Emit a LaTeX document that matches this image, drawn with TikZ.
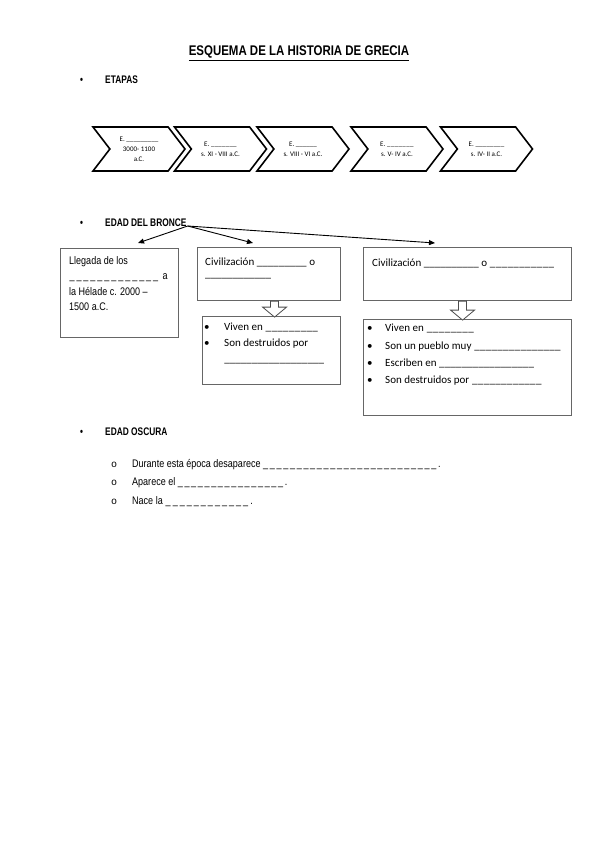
\documentclass[tikz,border=0pt]{standalone}
\usepackage{fontspec}
\setmainfont{Liberation Sans}[FakeStretch=0.82]
\newfontfamily\negrita{Liberation Sans}[FakeStretch=0.76]
\newfontfamily\calfont{Carlito}
\newfontfamily\monofont{Liberation Mono}
\usetikzlibrary{arrows.meta,shapes.symbols}
\newcommand{\hueco}[1]{\leavevmode\xleaders\hbox{\_}\hskip#1\null}
\newcommand{\rayas}[1]{\leavevmode\xleaders\hbox{\_\kern1.6pt}\hskip#1\null}
\tikzset{
  titulo/.style={font=\negrita\bfseries\fontsize{11}{13}\selectfont, inner sep=0pt, anchor=base west},
  texto/.style={font=\fontsize{11}{13}\selectfont, inner sep=0pt, anchor=base west},
  cal/.style={font=\calfont\fontsize{11}{13}\selectfont, inner sep=0pt, anchor=base west},
  caja/.style={draw=black!60, line width=1.1pt, inner sep=0pt, anchor=north west},
  etapa/.style={draw, line width=1.6pt, signal, signal to=east, signal from=west,
    signal pointer angle=105, minimum width=92pt, minimum height=44pt, inner sep=0pt,
    align=center, font=\calfont\fontsize{7}{10}\selectfont},
  flecha/.style={-{Triangle[length=6pt,width=5pt]}, line width=0.9pt},
  bloque/.style={draw=black!70, fill=white, line width=0.8pt, line join=miter}
}
\begin{document}
\begin{tikzpicture}[x=1pt,y=-1pt]
  \useasboundingbox (0,0) rectangle (599,848);
  % titulo
  \node[font=\bfseries\fontsize{14}{16}\selectfont, inner sep=0pt, anchor=base] (tit) at (299,56) {\underline{ESQUEMA DE LA HISTORIA DE GRECIA}};
  % etapas
  \node[titulo] (b1) at (80,84) {•};
  \node[titulo] (etapas) at (105,84) {ETAPAS};
  \foreach \x/\t [count=\i] in {139/{E. \hueco{32pt}\\3000- 1100\\a.C.}, 220.5/{E. \hueco{26pt}\\s. XI - VIII a.C.}, 303/{E. \hueco{21pt}\\s. VIII - VI a.C.}, 397/{E. \hueco{27pt}\\s. V- IV a.C.}, 486.5/{E. \hueco{29pt}\\s. IV- II a.C.}}
    \node[etapa] (e\i) at (\x,149) {\t};
  % edad del bronce
  \node[titulo] (b2) at (80,226) {•};
  \node[titulo] (bronce) at (105,226) {EDAD DEL BRONCE};
  \node[caja, minimum width=118pt, minimum height=89pt] (llegada) at (60,248) {};
  \node[caja, minimum width=143pt, minimum height=53pt] (civ1) at (197,247) {};
  \node[caja, minimum width=138pt, minimum height=68pt] (rasgos1) at (202,316) {};
  \node[caja, minimum width=208pt, minimum height=53pt] (civ2) at (363,247) {};
  \node[caja, minimum width=208pt, minimum height=96pt] (rasgos2) at (363,319) {};
  \coordinate (p1) at (138,243);
  \coordinate (p2) at (253,243);
  \coordinate (p3) at (435,243);
  \foreach \p in {p1,p2,p3}
    \draw[flecha] ([xshift=1pt]bronce.base east) -- (\p);
  \foreach \n/\dx/\s/\p in {civ1/5.5/6/16, civ2/-5/9/19}
    \draw[bloque] ([xshift=\dx pt]\n.south) ++(-4,0) -- ++(0,\s) -- ++(-8,0) -- ++(12,\p-\s) -- ++(12,\s-\p) -- ++(-8,0) -- ++(0,-\s) -- cycle;
  \foreach \y/\t [count=\i] in {264/{Llegada de los}, 279.5/{\rayas{91pt} a}, 295/{la Hélade c. 2000 –}, 310.5/{1500 a.C.}}
    \node[texto] (l\i) at (69,\y) {\t};
  \node[cal] (c1a) at (205,265) {Civilización \hueco{50pt} o};
  \node[cal] (c1b) at (205,277) {\hueco{66pt}};
  \foreach \y [count=\i] in {330,346}
    \node[cal] (v1\i) at (204,\y) {•};
  \foreach \y/\t [count=\i] in {330/{Viven en \hueco{53pt}}, 346/{Son destruidos por}, 362/{\hueco{100pt}}}
    \node[cal] (r1\i) at (224,\y) {\t};
  \node[cal] (c2a) at (372,266) {Civilización \hueco{55pt} o \hueco{65pt}};
  \foreach \y/\t [count=\i] in {331/{Viven en \hueco{48pt}}, 349/{Son un pueblo muy \hueco{87pt}}, 366/{Escriben en \hueco{95pt}}, 383/{Son destruidos por \hueco{70pt}}} {
    \node[cal] (v2\i) at (367,\y) {•};
    \node[cal] (r2\i) at (385,\y) {\t};
  }
  % edad oscura
  \node[titulo] (b3) at (80,435) {•};
  \node[titulo] (oscura) at (105,435) {EDAD OSCURA};
  \foreach \y/\t [count=\i] in {467/{Durante esta época desaparece \rayas{175pt}.}, 485.5/{Aparece el \rayas{107pt}.}, 504/{Nace la \rayas{85pt}.}} {
    \node[font=\monofont\fontsize{10}{12}\selectfont, inner sep=0pt, anchor=base west] (o\i) at (111,\y) {o};
    \node[texto] (d\i) at (132,\y) {\t};
  }
\end{tikzpicture}
\end{document}
